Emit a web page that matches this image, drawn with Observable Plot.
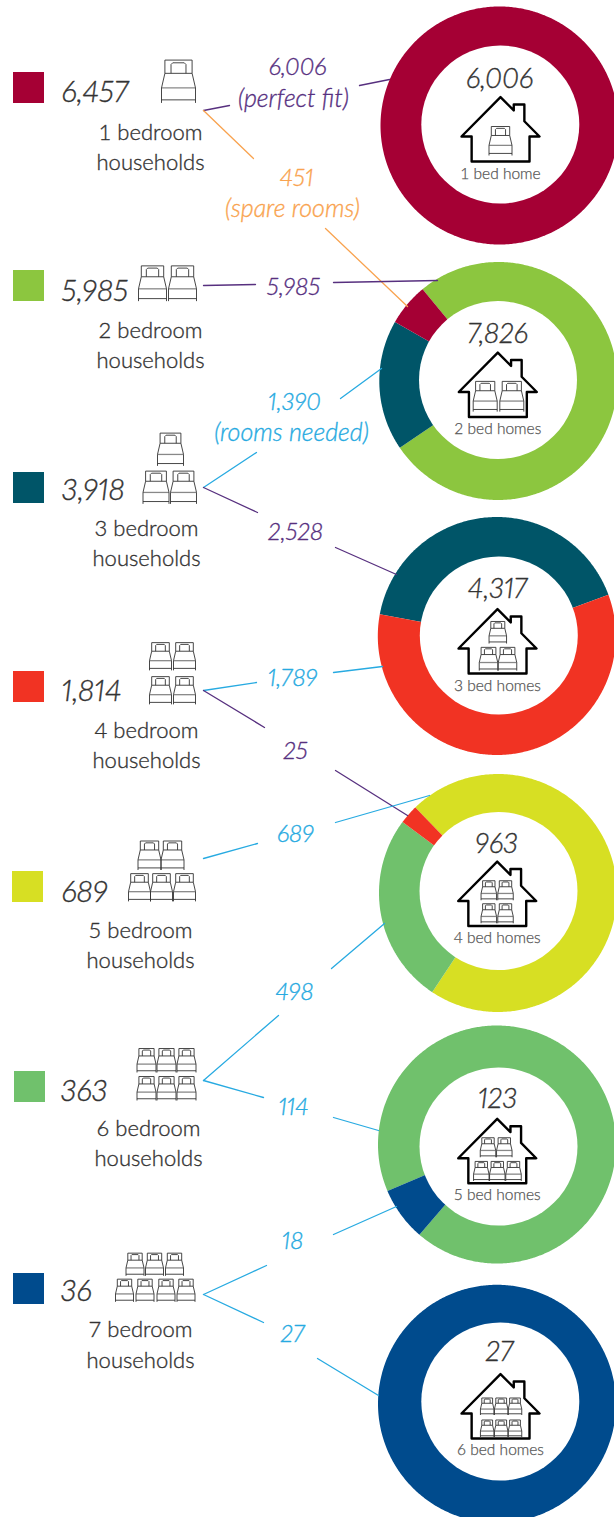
<!DOCTYPE html>
<html><head><meta charset="utf-8">
<style>html,body{margin:0;padding:0;background:#fff}</style>
<script src="https://cdn.jsdelivr.net/npm/d3@7"></script>
<script src="https://cdn.jsdelivr.net/npm/@observablehq/plot@0.6"></script>
</head><body>
<script>
// ---- data
const householdSizes = [1, 2, 3, 4, 5, 6, 7];
const households = [6457, 5985, 3918, 1814, 689, 363, 36];
const homeSizes = [1, 2, 3, 4, 5, 6];
const homes = [6006, 7826, 4317, 963, 123, 27];
const homeLabels = ["1 bed home", "2 bed homes", "3 bed homes", "4 bed homes", "5 bed homes", "6 bed homes"];
// slices per home type, clockwise as drawn: [household group (index), households]
const sliceGroups = [
  [[0, 6006]],
  [[1, 5985], [2, 1390], [0, 451]],
  [[2, 1789], [3, 2528]],
  [[4, 689], [5, 249], [3, 25]],
  [[5, 114], [6, 9]],
  [[6, 27]]
];
const flowLabels = ["6,006", "(perfect fit)", "451", "(spare rooms)", "5,985", "1,390", "(rooms needed)", "2,528", "1,789", "25", "689", "498", "114", "18", "27"];
const flowKinds = ["fit", "fit", "spare", "spare", "fit", "need", "need", "fit", "need", "fit", "need", "need", "need", "need", "need"];

// ---- styles
const groupColors = ["#a50034", "#8cc63f", "#005568", "#f13323", "#d7df23", "#70c16c", "#004b8d"];
const kindColors = {fit: "#57307f", spare: "#f9a34f", need: "#27aae1"};
const ink = "#333";
const font = "Lato";
const thick = 0.35;

// ---- layout (page pixels)
const swatchXY = [[13,72],[13,270],[13,472],[13,671],[12,871],[14,1071],[13,1273]];
const swatchSize = 31;
const bigNumberXY = [[61,92],[61,291],[61,490],[61,691],[61,892],[60,1091],[60,1291]];
const labelXY = [[150,132,162],[150,330,360],[146,528,558],[146,730,760],[140,930,960],[148,1128,1158],[140,1329,1360]];
const bedRows = [
  [[178,81,34]],
  [[152,283,28],[182,283,28]],
  [[170,449,26],[155.5,487,26],[183,487,26]],
  [[160,656,22],[184,656,22],[160,690,22],[184,690,22]],
  [[149,855,23],[172,855,23],[139,887,22],[161,887,22],[184,887,22]],
  [[146,1060,19],[166,1060,19],[186,1060,19],[146,1088,19],[166,1088,19],[186,1088,19]],
  [[134.5,1264,18],[154,1264,18],[174,1264,18],[124,1290,18],[144.5,1290,18],[165.5,1290,18],[185.5,1290,18]]
];
const donutXY = [[499,125],[497.8,380.5],[496.3,635.5],[497.5,892.5],[496.5,1144],[496.5,1403.3]];
const holeXY = [[499.8,124],[497.5,379.5],[498.3,635],[498,890.5],[498,1146],[499.8,1401]];
const startAngles = [0, 320.5, 280.5, 316, 247, 0];
const outerR = 119, innerR = 79;
const homeNumberY = [79, 334, 589, 844, 1099, 1352];
const homeNumberX = [499, 497, 497, 496, 497, 499];
const homeLabelY = [174, 429, 686, 938, 1195, 1450];
const houseXY = [[500,129],[497.3,384.5],[497,641],[496.7,893.5],[496.7,1150.7],[500,1406]];
const houseBeds = [
  [[500,140.5,23]],
  [[484.7,396,24],[511.3,396,24]],
  [[497.3,632,17.5],[488,658.5,18.5],[507,658.5,18.5]],
  [[488.3,890,15.5],[505,890,15.5],[488.3,913,15.5],[505,913,15.5]],
  [[487.5,1147,15.5],[503.8,1147,15.5],[480.8,1170.7,15.5],[496.8,1170.7,15.5],[513,1170.7,15.5]],
  [[486.7,1406,13.5],[500.7,1406,13.5],[514.5,1406,13.5],[486.7,1428,13.5],[500.7,1428,13.5],[514.5,1428,13.5]]
];
const flowXY = [[297,67],[293,98],[296,178],[292,208],[293,287],[294,402],[291,432],[295,532],[292,678],[295,751],[295,834],[294,992],[293,1107],[292,1241],[292,1334]];
const connectors = [
  ["fit",[[203,110],[229,105]]], ["fit",[[359,85],[389,79]]],
  ["spare",[[203,110],[253,158]]], ["spare",[[325,228],[407,306]]],
  ["fit",[[203,285],[255,284]]], ["fit",[[333,282],[437,280]]],
  ["need",[[203,487],[256,452]]], ["need",[[340,398],[381,368]]],
  ["fit",[[203,487],[257,512]]], ["fit",[[335,547],[396,574]]],
  ["need",[[203,690],[256,682]]], ["need",[[333,672],[382,666]]],
  ["fit",[[203,690],[264,727]]], ["fit",[[335,770],[407,815]]],
  ["need",[[203,858],[257,843]]], ["need",[[335,822],[429,795]]],
  ["need",[[203,1080],[278,1015]]], ["need",[[331,968],[384,923]]],
  ["need",[[203,1080],[263,1097]]], ["need",[[333,1117],[378,1130]]],
  ["need",[[203,1294],[266,1265]]], ["need",[[333,1234],[396,1206]]],
  ["need",[[203,1294],[263,1322]]], ["need",[[317,1358],[378,1395]]]
];

// ---- glyphs: custom symbols, unit = bed width (r) from Plot.dot
const unit = size => Math.sqrt(size / Math.PI);
const bedOutline = {draw(c, size) {
  const s = unit(size);
  const poly = (pts, close) => { pts.forEach(([x, y], i) => i ? c.lineTo(x*s, y*s) : c.moveTo(x*s, y*s)); if (close) c.closePath(); };
  poly([[-.40,-.24],[-.40,-.63],[.40,-.63],[.40,-.24]]);
  poly([[-.22,-.24],[-.22,-.50],[-.17,-.55],[.17,-.55],[.22,-.50],[.22,-.24]]);
  poly([[-.40,-.24],[.40,-.24],[.5,.19],[.5,.63]]);
  poly([[-.40,-.24],[-.5,.19],[-.5,.63]]);
  poly([[-.5,.54],[.5,.54]]);
}};
const bedBand = {draw(c, size) {
  const s = unit(size);
  c.moveTo(-.5*s, .19*s); c.lineTo(.5*s, .19*s);
}};
const house = {draw(c, size) {
  const s = unit(size);
  const pts = [[-.37,.41],[-.37,.09],[-.5,.09],[0,-.415],[.17,-.245],[.17,-.32],[.306,-.32],[.306,-.106],[.5,.09],[.372,.09],[.372,.41]];
  pts.forEach(([x, y], i) => i ? c.lineTo(x*s, y*s) : c.moveTo(x*s, y*s));
  c.closePath();
}};

// ---- tables built from the arrays
const slices = sliceGroups.flatMap((group, k) => {
  const a0 = startAngles[k] * Math.PI / 180;
  const arcs = d3.pie().sort(null).value(d => d[1]).startAngle(a0).endAngle(a0 + 2 * Math.PI)(group);
  return arcs.map((arc, j) => {
    const [cx, cy] = donutXY[k];
    const n = Math.max(2, Math.ceil((arc.endAngle - arc.startAngle) * 90));
    const pts = d3.range(n + 1).map(i => {
      const t = arc.startAngle + (arc.endAngle - arc.startAngle) * i / n;
      return [cx + outerR * Math.sin(t), cy - outerR * Math.cos(t)];
    });
    return [[cx, cy], ...pts, [cx, cy]].map(p => ({x: p[0], y: p[1], id: `${k}-${j}`, color: groupColors[arc.data[0]]}));
  });
}).flat();

const linePts = connectors.flatMap(([kind, pts], i) => pts.map(p => ({x: p[0], y: p[1], id: i, color: kindColors[kind]})));
const beds = [...bedRows.flat(), ...houseBeds.flat()].map(([x, y, w]) => ({x, y, w}));

const chart = Plot.plot({
  width: 614, height: 1517,
  margin: 0,
  x: {domain: [0, 614], range: [0, 614], axis: null},
  y: {domain: [0, 1517], range: [0, 1517], axis: null},
  color: {type: "identity"},
  style: {background: "#fff", fontFamily: font},
  marks: [
    Plot.line(slices, {x: "x", y: "y", z: "id", fill: "color", stroke: null}),
    Plot.dot(homes, {x: (d, i) => holeXY[i][0], y: (d, i) => holeXY[i][1], r: innerR, fill: "#fff", stroke: null}),
    Plot.line(linePts, {x: "x", y: "y", z: "id", stroke: "color", strokeWidth: 1.3}),
    Plot.rect(households, {
      x1: (d, i) => swatchXY[i][0], x2: (d, i) => swatchXY[i][0] + swatchSize,
      y1: (d, i) => swatchXY[i][1], y2: (d, i) => swatchXY[i][1] + swatchSize,
      fill: (d, i) => groupColors[i]
    }),
    Plot.text(households, {
      x: (d, i) => bigNumberXY[i][0], y: (d, i) => bigNumberXY[i][1],
      text: d => d3.format(",")(d), textAnchor: "start", lineAnchor: "middle",
      fontSize: 30, fontStyle: "italic", fontWeight: 300, fontFamily: font, fontVariant: "proportional-nums", fill: ink, stroke: ink, strokeWidth: thick
    }),
    Plot.text(householdSizes, {
      x: (d, i) => labelXY[i][0], y: (d, i) => labelXY[i][1],
      text: d => `${d} bedroom`, lineAnchor: "middle", fontSize: 22, fontWeight: 300, fontFamily: font, fill: ink, stroke: ink, strokeWidth: thick
    }),
    Plot.text(householdSizes, {
      x: (d, i) => labelXY[i][0], y: (d, i) => labelXY[i][2],
      text: () => "households", lineAnchor: "middle", fontSize: 22, fontWeight: 300, fontFamily: font, fill: ink, stroke: ink, strokeWidth: thick
    }),
    Plot.text(flowLabels.filter(d => d[0] !== "("), {
      x: d => flowXY[flowLabels.indexOf(d, d === "27" ? 14 : 0)][0],
      y: d => flowXY[flowLabels.indexOf(d, d === "27" ? 14 : 0)][1],
      text: d => d,
      fill: d => kindColors[flowKinds[flowLabels.indexOf(d)]], stroke: d => kindColors[flowKinds[flowLabels.indexOf(d)]], strokeWidth: thick, lineAnchor: "middle",
      fontSize: 24, fontStyle: "italic", fontWeight: 300, fontFamily: font, fontVariant: "proportional-nums"
    }),
    Plot.text(flowLabels.filter(d => d[0] === "("), {
      x: d => flowXY[flowLabels.indexOf(d)][0],
      y: d => flowXY[flowLabels.indexOf(d)][1],
      text: d => d,
      fill: d => kindColors[flowKinds[flowLabels.indexOf(d)]], stroke: d => kindColors[flowKinds[flowLabels.indexOf(d)]], strokeWidth: thick, lineAnchor: "middle",
      fontSize: 25, fontStyle: "italic", fontWeight: 300, fontFamily: font
    }),
    Plot.text(homes, {
      x: (d, i) => homeNumberX[i], y: (d, i) => homeNumberY[i],
      text: d => d3.format(",")(d), lineAnchor: "middle",
      fontSize: 28, fontStyle: "italic", fontWeight: 300, fontFamily: font, fontVariant: "proportional-nums", fill: ink, stroke: ink, strokeWidth: thick
    }),
    Plot.text(homeLabels, {
      x: (d, i) => houseXY[i][0], y: (d, i) => homeLabelY[i], text: d => d, lineAnchor: "middle",
      fontSize: 15.5, fontWeight: 300, fontFamily: font, fill: "#555", stroke: "#555", strokeWidth: 0.25
    }),
    Plot.dot(homeSizes, {
      x: (d, i) => houseXY[i][0], y: (d, i) => houseXY[i][1], r: 78, symbol: house,
      fill: "none", stroke: "#000", strokeWidth: 2.4, strokeLinejoin: "round"
    }),
    Plot.dot(beds, {x: "x", y: "y", r: {value: "w", scale: null}, symbol: bedBand, fill: "none", stroke: "#888", strokeWidth: 1.3}),
    Plot.dot(beds, {x: "x", y: "y", r: {value: "w", scale: null}, symbol: bedOutline, fill: "none", stroke: "#333", strokeWidth: 0.9})
  ]
});
document.body.append(chart);
</script>
</body></html>
